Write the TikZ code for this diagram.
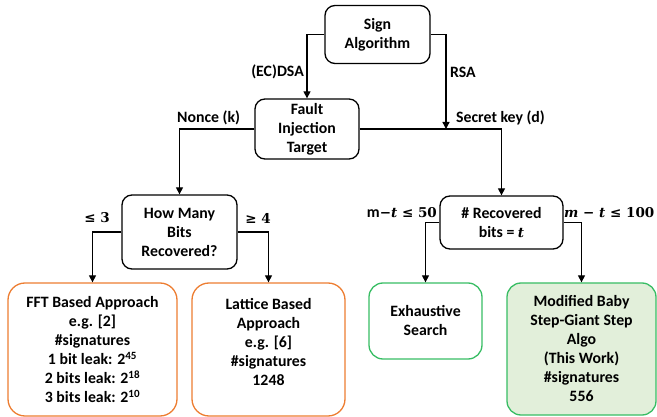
\documentclass[tikz,border=0pt]{standalone}
\usepackage{fontspec}
\setmainfont{Carlito}
\newfontfamily\symfont{DejaVu Serif}
\usetikzlibrary{arrows.meta}
\definecolor{boxorange}{RGB}{237,125,49}
\definecolor{boxgreen}{RGB}{56,189,100}
\definecolor{greenfill}{RGB}{226,239,218}
\newcommand{\vart}{{\symfont\fontsize{13.5}{19}\selectfont\bfseries\itshape t}}
\tikzset{
	txt/.style={font=\fontsize{15.8}{19}\selectfont\bfseries, align=center, inner sep=0pt},
	decbox/.style={txt, draw=black, line width=1.3pt, rounded corners=10pt},
	orbox/.style={txt, draw=boxorange, line width=1.3pt, rounded corners=17pt},
	grbox/.style={txt, draw=boxgreen, line width=1.3pt, rounded corners=14pt},
	conn/.style={line width=1.3pt, -{Triangle[length=7pt,width=7pt]}},
	lbl/.style={font=\fontsize{15.8}{19}\selectfont\bfseries, inner sep=0pt},
	symlbl/.style={font=\symfont\fontsize{13.5}{19}\selectfont\bfseries, inner sep=0pt}
}

\begin{document}
\begin{tikzpicture}[x=1pt, y=-1pt]
		%%%%% START %%%%%
		\useasboundingbox (0, 0) rectangle (657, 417);
		
		\node[decbox, minimum width=105pt, minimum height=58pt] (sign) at (377.5, 34.5) {Sign\\Algorithm};
		\node[decbox, minimum width=104pt, minimum height=60pt] (fault) at (307, 129) {Fault\\Injection\\Target};
		\node[decbox, minimum width=115pt, minimum height=74pt] (howmany) at (179.5, 232) {How Many\\Bits\\Recovered?};
		\node[decbox, minimum width=123pt, minimum height=53pt] (recov) at (501.5, 222.5) {\# Recovered\\bits = \vart};
		
		\node[orbox, minimum width=169pt, minimum height=133pt] (fft) at (92.5, 349.5) {FFT Based Approach\\e.g. [2]\\\#signatures\\1 bit leak: 2\textsuperscript{45}\\2 bits leak: 2\textsuperscript{18}\\3 bits leak: 2\textsuperscript{10}};
		\node[orbox, minimum width=153pt, minimum height=133pt] (lattice) at (268.5, 349.5) {Lattice Based\\Approach\\e.g. [6]\\\#signatures\\1248\\[-4pt]\mbox{}};
		\node[grbox, minimum width=113pt, minimum height=76pt] (exh) at (425.5, 321) {Exhaustive\\Search};
		\node[grbox, fill=greenfill, minimum width=149pt, minimum height=132pt] (mod) at (581.5, 349) {Modified Baby\\Step-Giant Step\\Algo\\(This Work)\\\#signatures\\556};
		
		\coordinate (rsaend) at (446, 129);
		
		\draw[conn] (sign.west) -| (fault.north);
		\draw[conn] (sign.east) -| (rsaend);
		\draw[conn] (fault.west) -| (howmany.north);
		\draw[conn] (fault.east) -| (recov.north);
		\draw[conn] (howmany.west) -| (fft.north);
		\draw[conn] (howmany.east) -| (lattice.north);
		\draw[conn] (recov.west) -| (exh.north);
		\draw[conn] (recov.east) -| (mod.north);
		
		\node[lbl, anchor=east] (ecdsa) at (304, 72) {(EC)DSA};
		\node[lbl, anchor=west] (rsa) at (450, 72) {RSA};
		\node[lbl, anchor=west] (nonce) at (177, 118) {Nonce (k)};
		\node[lbl, anchor=west] (secret) at (456, 118) {Secret key (d)};
		\node[symlbl] (few) at (97, 218) {≤ 3};
		\node[symlbl] (many) at (258, 218) {≥ 4};
		\node[lbl, anchor=east] (small) at (437, 213) {m{\symfont\fontsize{13.5}{19}\selectfont−}\vart{\symfont\fontsize{13.5}{19}\selectfont\ ≤ 50}};
		\node[symlbl, anchor=west] (large) at (564, 213) {\itshape m \upshape − \itshape t \upshape ≤ 100};
		%%%%% END %%%%%
	\end{tikzpicture}
\end{document}
